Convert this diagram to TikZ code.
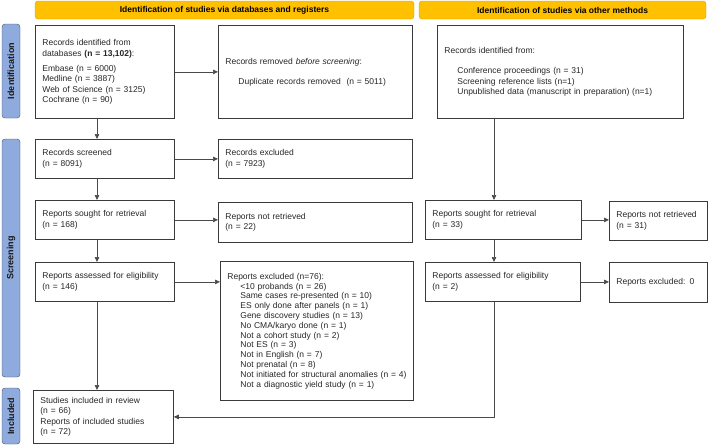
\documentclass[tikz,border=0pt]{standalone}
\usepackage{fontspec}
\setmainfont{Liberation Sans}
\usetikzlibrary{arrows.meta,positioning}

\definecolor{headfill}{HTML}{FFC000}
\definecolor{headline}{HTML}{D9A400}
\definecolor{sidefill}{HTML}{8FAADC}
\definecolor{sideline}{HTML}{44546A}
\definecolor{boxline}{HTML}{3A3A3A}
\definecolor{arrowline}{HTML}{4A4A4A}

\begin{document}
\begin{tikzpicture}[x=1pt,y=-1pt,>={Triangle[length=5pt,width=4.5pt]},
    box/.style={draw=boxline,line width=0.8pt,anchor=north west,align=left,
                inner xsep=7pt,inner ysep=0pt,text=black!85,
                font=\fontsize{8.5}{10.5}\selectfont},
    head node/.style={draw=headline,fill=headfill,rounded corners=3pt,
                minimum height=18pt,font=\bfseries\fontsize{8.5}{10}\selectfont},
    side node/.style={draw=sideline,fill=sidefill,rounded corners=3pt,rotate=90,
                minimum height=18pt,text=black!90,font=\bfseries\fontsize{9}{10}\selectfont},
    flow/.style={->,draw=arrowline,line width=0.7pt}]

  \useasboundingbox (0,0) rectangle (709,445);

  % headers and side bars
  \node[head node,minimum width=379pt] (hdb) at (224.5,10) {Identification of studies via databases and registers};
  \node[head node,minimum width=287pt] (hother) at (562.5,10) {Identification of studies via other methods};
  \node[side node,minimum width=94pt] (sid) at (11,71) {Identification};
  \node[side node,minimum width=238pt] (sscr) at (11,258) {Screening};
  \node[side node,minimum width=56pt] (sinc) at (11,416) {Included};

  % databases and registers
  \node[box,minimum width=139pt,minimum height=93pt,text width=125pt] (recid) at (35,25)
    {Records identified from\\ databases \textbf{(n = 13,102)}:\\[4.5pt]
     Embase (n = 6000)\\ Medline (n = 3887)\\ Web of Science (n = 3125)\\ Cochrane (n = 90)};
  \node[box,minimum width=194pt,minimum height=93pt,text width=180pt] (dup) at (218,25)
    {Records removed \textit{before screening}:\\[9.5pt]
     \hspace*{13pt}Duplicate records removed~~(n = 5011)};
  \node[box,minimum width=139pt,minimum height=39pt,text width=125pt] (screened) at (35,139)
    {Records screened\\ (n = 8091)};
  \node[box,minimum width=194pt,minimum height=39pt,text width=180pt] (excl) at (218,139)
    {Records excluded\\ (n = 7923)};
  \node[box,minimum width=139pt,minimum height=39pt,text width=125pt] (sought) at (35,200)
    {Reports sought for retrieval\\ (n = 168)};
  \node[box,minimum width=194pt,minimum height=40pt,text width=180pt] (notret) at (218,202)
    {Reports not retrieved\\ (n = 22)};
  \node[box,minimum width=139pt,minimum height=39pt,text width=125pt] (assessed) at (35,262)
    {Reports assessed for eligibility\\ (n = 146)};
  \node[box,minimum width=193pt,minimum height=139pt,text width=179pt,
        font=\fontsize{8.5}{9.8}\selectfont] (rexcl) at (220,261)
    {Reports excluded (n=76):\\
     \hspace*{13pt}<10 probands (n = 26)\\
     \hspace*{13pt}Same cases re-presented (n = 10)\\
     \hspace*{13pt}ES only done after panels (n = 1)\\
     \hspace*{13pt}Gene discovery studies (n = 13)\\
     \hspace*{13pt}No CMA/karyo done (n = 1)\\
     \hspace*{13pt}Not a cohort study (n = 2)\\
     \hspace*{13pt}Not ES (n = 3)\\
     \hspace*{13pt}Not in English (n = 7)\\
     \hspace*{13pt}Not prenatal (n = 8)\\
     \hspace*{13pt}\mbox{Not initiated for structural anomalies (n = 4)}\\
     \hspace*{13pt}Not a diagnostic yield study (n = 1)\\[6pt]};
  \node[box,minimum width=140pt,minimum height=53pt,text width=126pt] (incl) at (33,390)
    {Studies included in review\\ (n = 66)\\ Reports of included studies\\ (n = 72)};

  % other methods
  \node[box,minimum width=246pt,minimum height=93pt,text width=232pt] (other) at (437,25)
    {Records identified from:\\[9.5pt]
     \hspace*{13pt}Conference proceedings (n = 31)\\
     \hspace*{13pt}Screening reference lists (n=1)\\
     \hspace*{13pt}Unpublished data (manuscript in preparation) (n=1)};
  \node[box,minimum width=156pt,minimum height=39pt,text width=142pt] (osought) at (425,200)
    {Reports sought for retrieval\\ (n = 33)};
  \node[box,minimum width=98pt,minimum height=39pt,text width=84pt] (onotret) at (609,201)
    {Reports not retrieved\\ (n = 31)};
  \node[box,minimum width=155pt,minimum height=39pt,text width=141pt] (oassessed) at (425,262)
    {Reports assessed for eligibility\\ (n = 2)};
  \node[box,minimum width=98pt,minimum height=40pt,text width=84pt] (oexcl) at (609,262)
    {Reports excluded: 0};

  \coordinate (lcol) at (97,0);
  \coordinate (rcol) at (494,0);

  % connectors
  \draw[flow] (recid.south -| lcol) -- (screened.north -| lcol);
  \draw[flow] (screened.south -| lcol) -- (sought.north -| lcol);
  \draw[flow] (sought.south -| lcol) -- (assessed.north -| lcol);
  \draw[flow] (assessed.south -| lcol) -- (incl.north -| lcol);
  \draw[flow] (recid.east) -- (recid.east -| dup.west);
  \draw[flow] (screened.east) -- (screened.east -| excl.west);
  \draw[flow] (sought.east) -- (sought.east -| notret.west);
  \draw[flow] (assessed.east) -- (assessed.east -| rexcl.west);
  \draw[flow] (other.south -| rcol) -- (osought.north -| rcol);
  \draw[flow] (osought.south -| rcol) -- (oassessed.north -| rcol);
  \draw[flow] (osought.east) -- (osought.east -| onotret.west);
  \draw[flow] (oassessed.east) -- (oassessed.east -| oexcl.west);
  \draw[flow] (oassessed.south -| rcol) |- (incl.east);
\end{tikzpicture}
\end{document}
